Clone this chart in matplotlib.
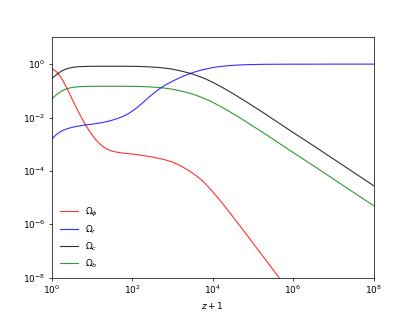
#!/usr/bin/env python3
# Density parameters vs z+1 (log-log).
import matplotlib

matplotlib.use("Agg")
import matplotlib.pyplot as plt
import matplotlib.ticker as mticker
import numpy as np

# log10(z+1) sample positions
LOGZ = [0.0, 0.125, 0.25, 0.375, 0.5, 0.625, 0.75, 0.875, 1.0, 1.125, 1.25,
        1.375, 1.5, 1.625, 1.75, 1.875, 2.0, 2.125, 2.25, 2.375, 2.5, 2.625,
        2.75, 2.875, 3.0, 3.125, 3.25, 3.375, 3.5, 3.625, 3.75, 3.875, 4.0,
        4.125, 4.25, 4.375, 4.5, 4.75, 5.0, 5.25, 5.5, 5.75, 6.0, 6.5, 7.0,
        7.5, 8.0]

# log10(Omega) for each component (phi stops once it leaves the axes)
LOG_OMEGA_PHI = [-0.16, -0.30, -0.55, -0.90, -1.30, -1.68, -2.04, -2.37,
                 -2.65, -2.89, -3.07, -3.19, -3.26, -3.30, -3.33, -3.35,
                 -3.37, -3.39, -3.42, -3.45, -3.48, -3.52, -3.56, -3.61,
                 -3.67, -3.75, -3.85, -3.96, -4.08, -4.22, -4.38, -4.57,
                 -4.78, -5.00, -5.23, -5.47, -5.71, -6.20, -6.70, -7.20,
                 -7.70, -8.20, -8.70]
LOG_OMEGA_R = [-2.80, -2.62, -2.50, -2.42, -2.37, -2.33, -2.30, -2.27,
               -2.25, -2.22, -2.19, -2.15, -2.10, -2.04, -1.97, -1.88,
               -1.76, -1.62, -1.46, -1.29, -1.13, -0.98, -0.85, -0.74,
               -0.64, -0.55, -0.46, -0.39, -0.32, -0.26, -0.21, -0.17,
               -0.13, -0.10, -0.08, -0.06, -0.045, -0.025, -0.015, -0.008,
               -0.005, -0.003, -0.002, -0.001, 0.0, 0.0, 0.0]
LOG_OMEGA_C = [-0.54, -0.38, -0.25, -0.17, -0.125, -0.10, -0.09, -0.085,
               -0.08, -0.08, -0.08, -0.08, -0.08, -0.08, -0.08, -0.081,
               -0.082, -0.085, -0.09, -0.10, -0.11, -0.12, -0.14, -0.16,
               -0.19, -0.23, -0.27, -0.32, -0.37, -0.44, -0.51, -0.59,
               -0.68, -0.78, -0.88, -0.99, -1.10, -1.33, -1.57, -1.81,
               -2.06, -2.31, -2.56, -3.05, -3.55, -4.05, -4.55]
LOG_OMEGA_B = [-1.30, -1.13, -1.00, -0.92, -0.875, -0.85, -0.84, -0.835,
               -0.83, -0.83, -0.83, -0.83, -0.83, -0.83, -0.83, -0.831,
               -0.832, -0.835, -0.84, -0.85, -0.86, -0.87, -0.89, -0.91,
               -0.94, -0.98, -1.02, -1.07, -1.12, -1.19, -1.26, -1.34,
               -1.43, -1.53, -1.63, -1.74, -1.85, -2.08, -2.32, -2.56,
               -2.81, -3.06, -3.31, -3.80, -4.30, -4.80, -5.30]

SERIES = [
    (LOG_OMEGA_PHI, r"$\Omega_\phi$", "r"),
    (LOG_OMEGA_R, r"$\Omega_r$", "b"),
    (LOG_OMEGA_C, r"$\Omega_c$", "k"),
    (LOG_OMEGA_B, r"$\Omega_b$", "g"),
]

XTICKS = [1e0, 1e2, 1e4, 1e6, 1e8]
YTICKS = [1e-8, 1e-6, 1e-4, 1e-2, 1e0]

fig, ax = plt.subplots(figsize=(415 / 65, 312 / 65), dpi=65)

zp1 = 10 ** np.array(LOGZ)
for logy, label, color in SERIES:
    ax.plot(zp1[:len(logy)], 10 ** np.array(logy), color=color, label=label,
            linewidth=1.25, alpha=0.8)

ax.set_xscale("log")
ax.set_yscale("log")
ax.set_xlim(1, 1e8)
ax.set_ylim(1e-8, 10)
ax.set_xticks(XTICKS)
ax.set_yticks(YTICKS)
ax.xaxis.set_minor_locator(mticker.NullLocator())
ax.yaxis.set_minor_locator(mticker.NullLocator())
ax.set_xlabel("$z+1$")
ax.legend(loc="lower left", frameon=False)

fig.savefig("out.png")
